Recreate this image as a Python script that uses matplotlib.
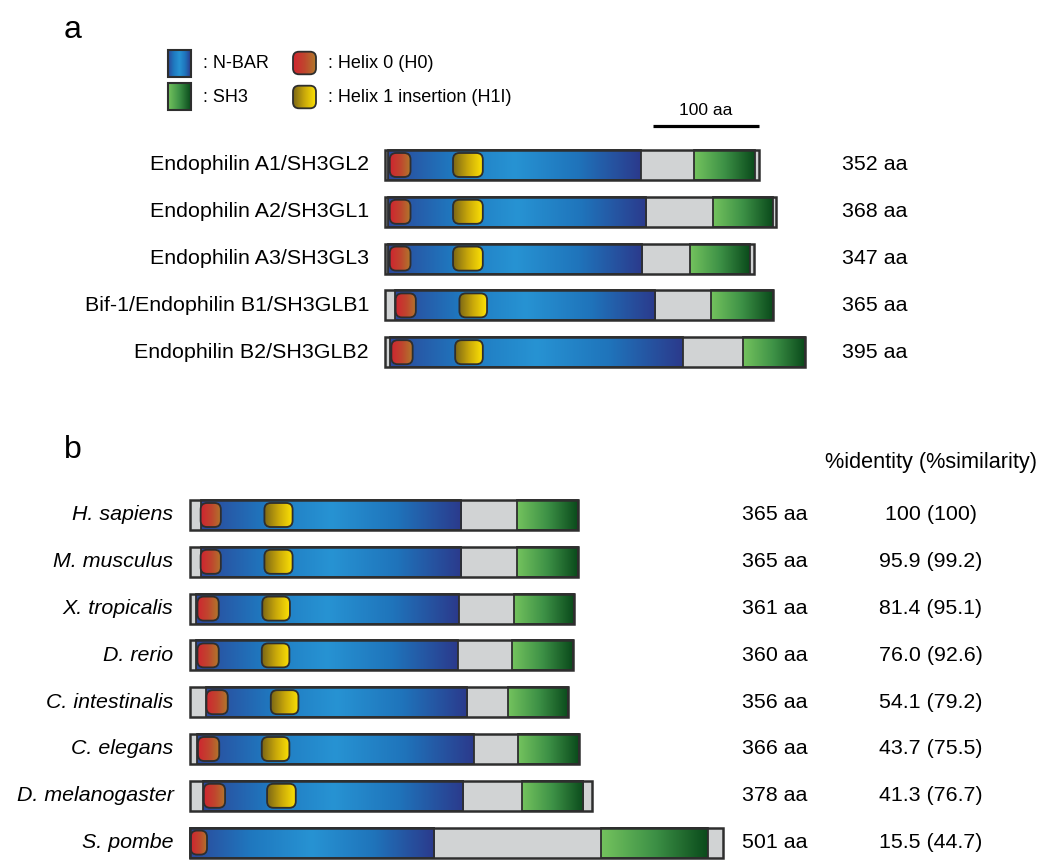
import numpy as np
import matplotlib
matplotlib.use("Agg")
import matplotlib.pyplot as plt
from matplotlib.colors import LinearSegmentedColormap
from matplotlib.patches import Rectangle, FancyBboxPatch

plt.rcParams['font.family'] = ['Liberation Sans', 'DejaVu Sans']

# ---- panel a : human endophilins (residue positions) ----
names_a = ["Endophilin A1/SH3GL2", "Endophilin A2/SH3GL1", "Endophilin A3/SH3GL3",
           "Bif-1/Endophilin B1/SH3GLB1", "Endophilin B2/SH3GLB2"]
len_a = [352, 368, 347, 365, 395]
nbar_a = [(3, 241), (3, 246), (3, 242), (9, 254), (5, 280)]
h0_a = [(4.5, 24), (4.5, 24), (4.5, 24), (10, 29), (6, 26)]
h1i_a = [(64, 92), (64, 92), (64, 92), (70, 96), (66, 92)]
sh3_a = [(291, 348), (309, 365), (287, 343), (307, 365), (337, 395)]

# ---- panel b : Bif-1 orthologues ----
species = ["H. sapiens", "M. musculus", "X. tropicalis", "D. rerio",
           "C. intestinalis", "C. elegans", "D. melanogaster", "S. pombe"]
len_b = [365, 365, 361, 360, 356, 366, 378, 501]
nbar_b = [(10, 255), (10, 255), (6, 253), (6, 252), (15, 261), (7, 267), (12, 257), (0, 230)]
h0_b = [(10, 29), (10, 29), (7, 27), (7, 27), (15.5, 35.5), (7.5, 27.5), (13, 33), (0.7, 16)]
h1i_b = [(70, 96.5), (70, 96.5), (68, 94), (67.5, 93.5), (76, 102), (67.5, 93.5), (72.5, 99.5), None]
sh3_b = [(308, 365), (308, 365), (305, 361), (303, 360), (299, 356), (309, 366), (312, 370), (387, 487)]
ident_b = ["100 (100)", "95.9 (99.2)", "81.4 (95.1)", "76.0 (92.6)",
           "54.1 (79.2)", "43.7 (75.5)", "41.3 (76.7)", "15.5 (44.7)"]

W, H = 1050, 861
PX = 1.063      # pixels per residue
ROW = 46.8      # row pitch (px)
EDGE = '#2e2e2e'
GRAY = '#d1d3d4'
FS = 15.4

cm_nbar = LinearSegmentedColormap.from_list('nbar', ['#2c4799', '#1f78bf', '#2793d3', '#1f74bb', '#2b3a8c'])
cm_sh3 = LinearSegmentedColormap.from_list('sh3', ['#74c35e', '#3d9146', '#0a4a1b'])
cm_h0 = LinearSegmentedColormap.from_list('h0', ['#cf2530', '#c0462e', '#b07a2c'])
cm_h1 = LinearSegmentedColormap.from_list('h1', ['#7b6616', '#c9a80a', '#fde205'])
grad = np.linspace(0, 1, 256).reshape(1, -1)

fig = plt.figure(figsize=(W / 100, H / 100), dpi=100)


def fill(ax, x0, x1, y0, h, cmap, clip=None, z=2):
    im = ax.imshow(grad, cmap=cmap, extent=(x0, x1, y0 + h, y0), aspect='auto',
                   interpolation='bilinear', zorder=z)
    if clip is not None:
        im.set_clip_path(clip)


def pill(ax, x0, x1, yc, h, cmap, m, r):
    p = FancyBboxPatch((x0, yc - h / 2), x1 - x0, h,
                       boxstyle=f'round,pad=0,rounding_size={r}', mutation_aspect=m,
                       fc='none', ec=EDGE, lw=1.3, zorder=4)
    ax.add_patch(p)
    fill(ax, x0, x1, yc - h / 2, h, cmap, clip=p, z=3)


def protein(ax, i, length, nbar, h0, h1i, sh3):
    bh = 30 / ROW
    ph = 24 / ROW
    m = PX / ROW
    y0 = i - bh / 2
    ax.add_patch(Rectangle((0, y0), length, bh, fc=GRAY, ec='none', zorder=1))
    for seg, cm in ((nbar, cm_nbar), (sh3, cm_sh3)):
        fill(ax, seg[0], seg[1], y0, bh, cm)
        ax.add_patch(Rectangle((seg[0], y0), seg[1] - seg[0], bh, fc='none',
                               ec=EDGE, lw=1.3, zorder=2.5))
    pill(ax, h0[0], h0[1], i, ph, cm_h0, m, 6)
    if h1i is not None:
        pill(ax, h1i[0], h1i[1], i, ph, cm_h1, m, 6)
    ax.add_patch(Rectangle((0, y0), length, bh, fc='none', ec=EDGE, lw=1.8, zorder=5))


def panel_axes(x0px, y0px):
    ax = fig.add_axes([0, 0, 1, 1])
    ax.axis('off')
    return ax, (-x0px / PX, (W - x0px) / PX), ((H - y0px) / ROW, -y0px / ROW)


# panel a
axa, xla, yla = panel_axes(385, 165)
for i in range(len(names_a)):
    protein(axa, i, len_a[i], nbar_a[i], h0_a[i], h1i_a[i], sh3_a[i])
    axa.text(-15, i, names_a[i], ha='right', va='center', fontsize=FS)
    axa.text(429.5, i, f"{len_a[i]} aa", ha='left', va='center', fontsize=FS)
axa.plot([252, 352], [-0.83, -0.83], color='black', lw=2.3, solid_capstyle='butt')
axa.text(302, -1.17, "100 aa", ha='center', va='center', fontsize=12.5)
axa.set_xlim(*xla)
axa.set_ylim(*yla)

# panel b
axb, xlb, ylb = panel_axes(190, 515)
for i in range(len(species)):
    protein(axb, i, len_b[i], nbar_b[i], h0_b[i], h1i_b[i], sh3_b[i])
    axb.text(-15.5, i, species[i], ha='right', va='center', fontsize=FS, style='italic')
    axb.text(519, i, f"{len_b[i]} aa", ha='left', va='center', fontsize=FS)
    axb.text(697, i, ident_b[i], ha='center', va='center', fontsize=FS)
axb.text(697, -1.13, "%identity (%similarity)", ha='center', va='center', fontsize=15.6)
axb.set_xlim(*xlb)
axb.set_ylim(*ylb)

# overlay in pixel units: panel letters and legend
ov = fig.add_axes([0, 0, 1, 1])
ov.axis('off')
ov.text(64, 38.5, "a", fontsize=23, va='baseline', ha='left')
ov.text(64, 457.5, "b", fontsize=23, va='baseline', ha='left')

for (y0, cm) in ((49.5, cm_nbar), (83, cm_sh3)):
    fill(ov, 167.5, 190.5, y0, 27, cm)
    ov.add_patch(Rectangle((167.5, y0), 23, 27, fc='none', ec=EDGE, lw=1.5, zorder=4))
for (yc, cm) in ((63, cm_h0), (97, cm_h1)):
    p = FancyBboxPatch((293, yc - 11.3), 23, 22.6, boxstyle='round,pad=0,rounding_size=6',
                       fc='none', ec=EDGE, lw=1.3, zorder=4)
    ov.add_patch(p)
    fill(ov, 293, 316, yc - 11.3, 22.6, cm, clip=p, z=3)
ov.text(203, 63, ": N-BAR", va='center', ha='left', fontsize=13)
ov.text(203, 97, ": SH3", va='center', ha='left', fontsize=13)
ov.text(328, 63, ": Helix 0 (H0)", va='center', ha='left', fontsize=13)
ov.text(328, 97, ": Helix 1 insertion (H1I)", va='center', ha='left', fontsize=13)
ov.set_xlim(0, W)
ov.set_ylim(H, 0)

fig.savefig("out.png", dpi=100)
